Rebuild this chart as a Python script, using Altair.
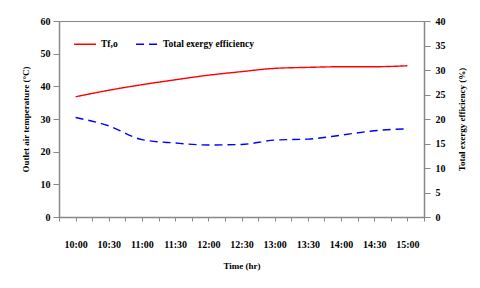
import altair as alt
import pandas as pd

times = ["10:00", "10:30", "11:00", "11:30", "12:00", "12:30",
         "13:00", "13:30", "14:00", "14:30", "15:00"]
temp_out = [36.8, 38.8, 40.5, 42.0, 43.4, 44.5, 45.5, 45.8, 46.0, 46.0, 46.3]
exergy_eff = [20.3, 18.6, 15.8, 15.1, 14.7, 14.8, 15.7, 15.9, 16.7, 17.6, 18.0]
series_names = ["Tf,o", "Total exergy efficiency"]

idx = list(range(len(times)))
df_t = pd.DataFrame({"idx": idx, "time": times, "val": temp_out, "series": series_names[0]})
df_e = pd.DataFrame({"idx": idx, "time": times, "val": exergy_eff, "series": series_names[1]})

FONT = "Liberation Serif"
tick_vals = [i * 0.5 - 0.5 for i in range(2 * len(times) + 1)]
arr = "[" + ",".join("'%s'" % t for t in times) + "]"
label_expr = ("datum.value == floor(datum.value) && datum.value >= 0 && datum.value <= %d ? %s[datum.value] : ''"
              % (len(times) - 1, arr))

x_enc = alt.X("idx:Q", scale=alt.Scale(domain=[-0.5, len(times) - 0.5], nice=False, zero=False),
              axis=alt.Axis(values=tick_vals, labelExpr=label_expr, title="Time (hr)",
                            tickSize=4, labelPadding=18, titlePadding=12, labelFlush=False,
                            labelOverlap=False))

legend_kw = dict(orient="none", legendX=14, legendY=11, direction="horizontal",
                 title=None, symbolType="stroke", symbolSize=480,
                 symbolStrokeWidth=1.5, labelFont=FONT, labelFontSize=9.5,
                 labelFontWeight="bold", columnPadding=15, labelOffset=4)
color = alt.Color("series:N", scale=alt.Scale(domain=series_names, range=["#ff0000", "#0000ff"]),
                  legend=alt.Legend(**legend_kw))
dash = alt.StrokeDash("series:N", scale=alt.Scale(domain=series_names, range=[[1, 0], [8, 5]]),
                      legend=alt.Legend(**legend_kw))

left = alt.Chart(df_t).mark_line(interpolate="monotone", strokeWidth=1.4).encode(
    x=x_enc,
    y=alt.Y("val:Q", scale=alt.Scale(domain=[0, 60], nice=False),
            axis=alt.Axis(orient="left", values=list(range(0, 61, 10)),
                          title="Outlet air temperature (°C)", tickSize=6, labelPadding=3,
                          titleX=-34, titleY=98, titleAngle=270, titleAlign="center",
                          titleBaseline="middle")),
    color=color, strokeDash=dash,
)

right = alt.Chart(df_e).mark_line(interpolate="monotone", strokeWidth=1.4).encode(
    x=x_enc,
    y=alt.Y("val:Q", scale=alt.Scale(domain=[0, 40], nice=False),
            axis=alt.Axis(orient="right", values=list(range(0, 41, 5)),
                          title="Total exergy efficiency (%)", tickSize=6, labelPadding=5,
                          titleX=37, titleY=98, titleAngle=270, titleAlign="center",
                          titleBaseline="middle")),
    color=color, strokeDash=dash,
)

chart = alt.layer(left, right).resolve_scale(y="independent").properties(
    width=365, height=196,
    autosize=alt.AutoSizeParams(type="none"),
    padding={"left": 51, "top": 13, "right": 48, "bottom": 63},
).configure_view(
    stroke="#888888", strokeWidth=1
).configure_axis(
    grid=False, domainColor="#888888", domainWidth=1.5, tickColor="#888888", tickWidth=1,
    labelFont=FONT, labelFontSize=10, labelFontWeight="bold", labelColor="#000000",
    titleFont=FONT, titleFontSize=9, titleFontWeight="bold", titleColor="#000000",
)

chart.save("out.html", embed_options={"renderer": "svg", "actions": False})
